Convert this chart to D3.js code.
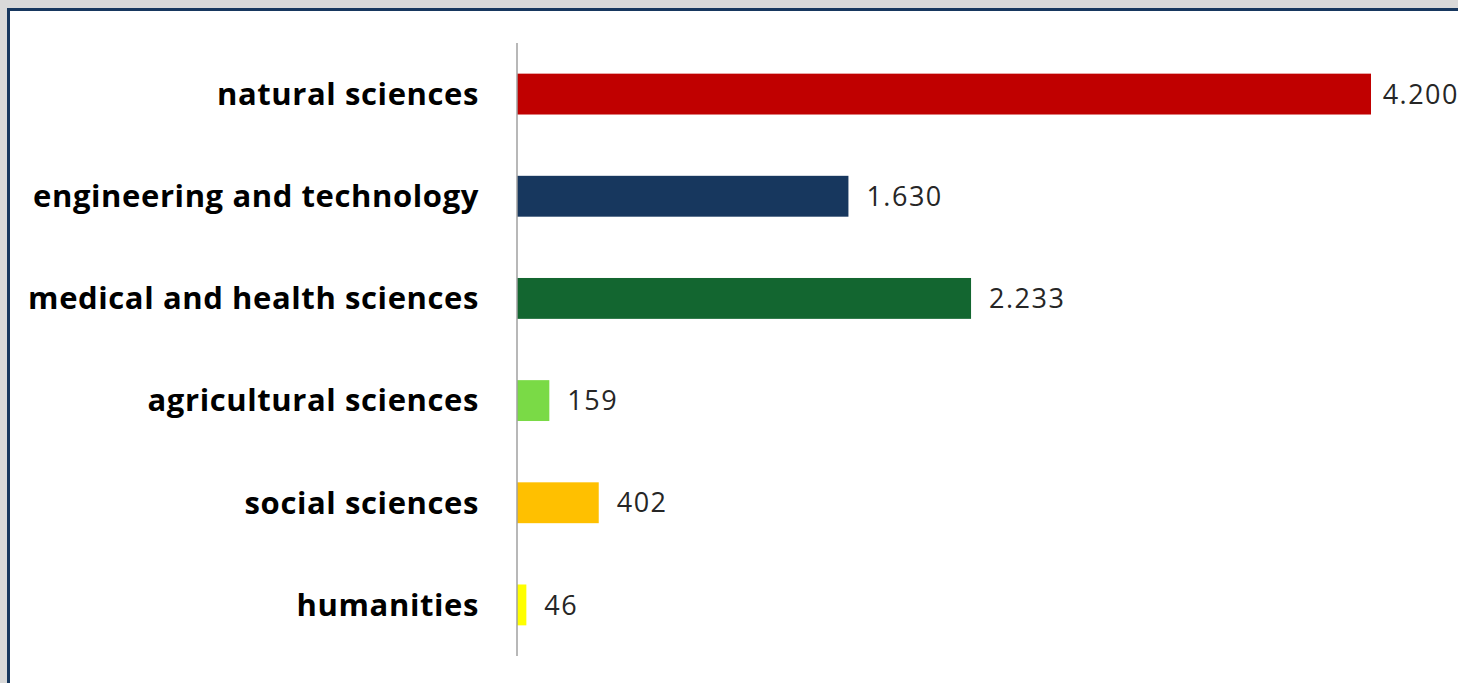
<!DOCTYPE html>
<html><head><meta charset="utf-8">
<script src="https://cdn.jsdelivr.net/npm/d3@7"></script>
<style>
html,body{margin:0;padding:0;background:#d9d9d9;overflow:hidden}
</style></head>
<body>
<svg id="c" width="1458" height="683"></svg>
<script>
const categories = ["natural sciences","engineering and technology","medical and health sciences","agricultural sciences","social sciences","humanities"];
const values = [4200, 1630, 2233, 159, 402, 46];
const colors = ["#c00000","#17375e","#136630","#7ada46","#ffc000","#ffff00"];

const W = 1458;
const svg = d3.select("#c");
// panel
svg.append("rect").attr("x",7).attr("y",8).attr("width",1460).attr("height",690).attr("fill","#17375e");
svg.append("rect").attr("x",10).attr("y",11).attr("width",1460).attr("height",690).attr("fill","#ffffff");

const x0 = 517;
const x = d3.scaleLinear().domain([0, 4200]).range([x0, 1371]);
const y = d3.scaleBand().domain(categories).range([43, 656]).paddingInner(0.6).paddingOuter(0.3);

const loc = d3.formatLocale({decimal:",", thousands:".", grouping:[3], currency:["","€"]});
const fmt = loc.format(",d");

const g = svg.append("g");
g.selectAll("rect.bar").data(categories).join("rect").attr("class","bar")
  .attr("x", x(0)).attr("y", d=>y(d)).attr("height", y.bandwidth())
  .attr("width", (d,i)=>x(values[i])-x(0)).attr("fill",(d,i)=>colors[i]);

const yAxis = d3.axisLeft(y).tickSize(0).tickPadding(38);
const ax = svg.append("g").attr("transform",`translate(${x0},0)`).call(yAxis);
ax.select(".domain").attr("stroke","#a0a0a0").attr("stroke-width",1.5).attr("d","M0,43V656");
ax.selectAll("text").attr("font-family","'Open Sans', sans-serif").attr("font-weight","bold")
  .attr("font-size",31).attr("letter-spacing","0.6px").attr("fill","#000").attr("dy","0.35em");

g.selectAll("text.val").data(categories).join("text").attr("class","val")
  .attr("y",d=>y(d)+y.bandwidth()/2).attr("dy","0.36em")
  .attr("font-family","'Open Sans', sans-serif").attr("font-size",27).attr("letter-spacing","1.5px").attr("fill","#262626")
  .text((d,i)=>fmt(values[i]))
  .attr("x",function(d,i){
    const w = this.getComputedTextLength();
    return Math.min(x(values[i])+18, W - w + 1);
  });
</script>
</body></html>
